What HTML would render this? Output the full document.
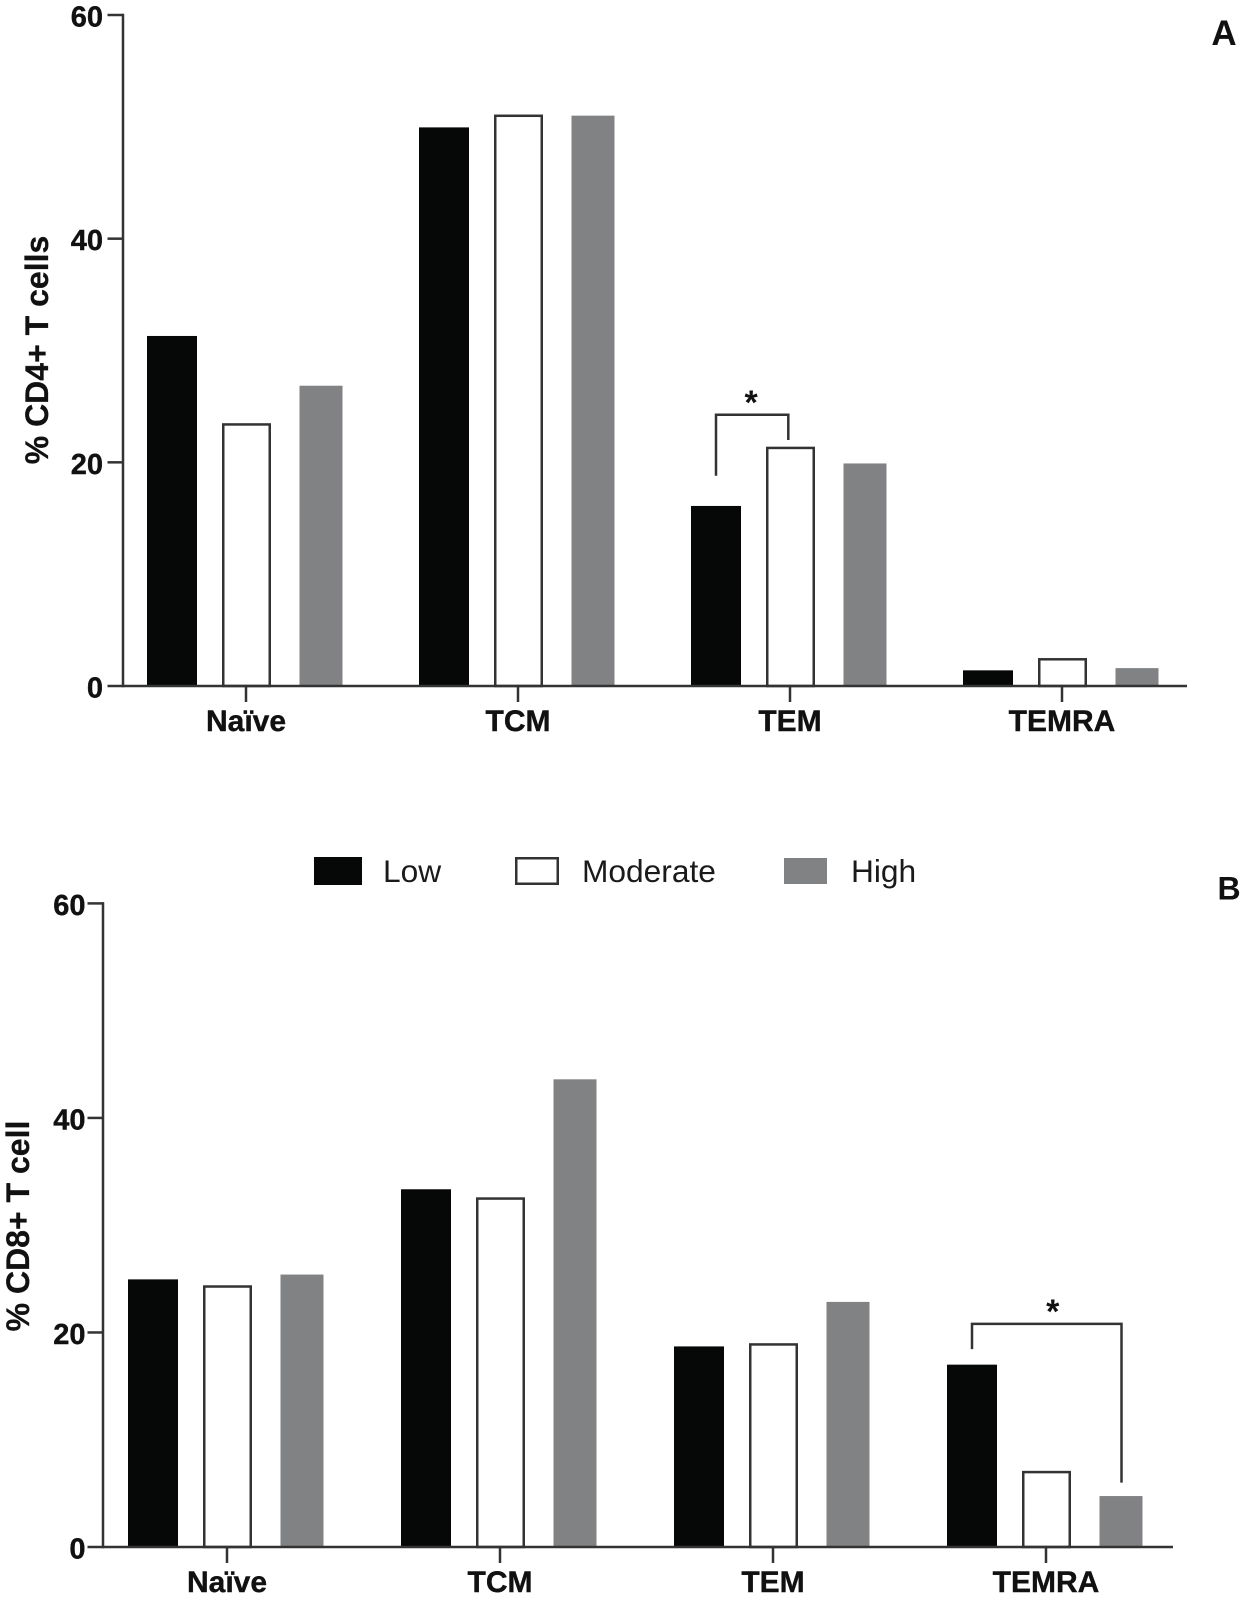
<!DOCTYPE html>
<html lang="en">
<head>
<meta charset="utf-8">
<title>CD4+ and CD8+ T cell subsets</title>
<style>
html,body{margin:0;padding:0;background:#fff;}
#chart{display:block;width:1245px;height:1602px;font-family:"Liberation Sans",Arial,sans-serif;}
.tick{font-size:29px;font-weight:700;fill:#111;stroke:#111;stroke-width:.4px;text-anchor:end;}
.cat{font-size:30px;font-weight:700;fill:#111;stroke:#111;stroke-width:.4px;text-anchor:middle;}
.title{font-size:32px;font-weight:700;fill:#111;stroke:#111;stroke-width:.3px;text-anchor:middle;}
.leg{font-size:31.7px;fill:#1a1a1a;}
.panel{font-weight:700;fill:#111;text-anchor:middle;}
.star{font-size:34px;font-weight:700;fill:#111;text-anchor:middle;}
</style>
</head>
<body>
<svg id="chart" xmlns="http://www.w3.org/2000/svg" width="1245" height="1602" viewBox="0 0 1245 1602">
  <rect x="0" y="0" width="1245" height="1602" fill="#fff"/>
  <g id="panelA"></g>
  <g id="panelB"></g>

  <text class="title" transform="translate(48,350) rotate(-90)">% CD4+ T cells</text>
  <text class="title" transform="translate(29,1226) rotate(-90)">% CD8+ T cell</text>
  <text class="panel" x="1224" y="45" font-size="35">A</text>
  <text class="panel" x="1229" y="899.5" font-size="32">B</text>

  <g>
    <g>
      <rect x="314" y="857" width="48" height="28" fill="#060808"/>
      <text class="leg" x="383" y="882">Low</text>
    </g>
    <g>
      <rect x="516.25" y="858.25" width="41.5" height="25.5" fill="#fff" stroke="#333" stroke-width="2.5"/>
      <text class="leg" x="582" y="882">Moderate</text>
    </g>
    <g>
      <rect x="784" y="858" width="43" height="26" fill="#808284"/>
      <text class="leg" x="851" y="882">High</text>
    </g>
  </g>
</svg>
<script>
// ---- chart data ----
const categories = ["Naïve", "TCM", "TEM", "TEMRA"];
const yTickLabels = [0, 20, 40, 60];

const cd4Low = [31.3, 49.95, 16.1, 1.4];
const cd4Moderate = [23.5, 51.1, 21.4, 2.5];
const cd4High = [26.85, 51.0, 19.9, 1.6];

const cd8Low = [24.95, 33.35, 18.7, 17.0];
const cd8Moderate = [24.4, 32.6, 19.0, 7.1];
const cd8High = [25.4, 43.6, 22.85, 4.75];

// significance brackets: [value at left foot, value at bar top, value at right foot]
const cd4Bracket = [18.8, 24.25, 22.0];
const cd8Bracket = [18.45, 20.8, 6.0];

const SVG_NS = "http://www.w3.org/2000/svg";

function makeEl(tag, parent, name) {
  const el = document.createElementNS(SVG_NS, tag);
  
  
  parent.appendChild(el);
  return el;
}

function drawPanel(parent, prefix, low, moderate, high, bracket, layout) {
  const yOf = v => layout.y0 - v * (layout.y0 - layout.y60) / 60;
  const xOf = i => layout.x0 + layout.step * i;
  const lineColor = "#333";

  // bars
  const series = [
    { key: "low", vals: low, off: -74, w: 50 },
    { key: "moderate", vals: moderate, off: 0.5, w: 49 },
    { key: "high", vals: high, off: 75, w: 43 }
  ];
  series.forEach(s => {
    s.vals.forEach((v, i) => {
      const cx = xOf(i) + s.off;
      const top = yOf(v);
      const bar = makeEl('rect', parent, prefix + '-bar-' + s.key + '-' + categories[i].toLowerCase().replace('ï', 'i'));
      if (s.key === "moderate") {
        bar.setAttribute('x', cx - s.w / 2 + 1.25);
        bar.setAttribute('y', top + 1.25);
        bar.setAttribute('width', s.w - 2.5);
        bar.setAttribute('height', Math.max(0, layout.y0 - top - 1.25));
        bar.setAttribute('fill', '#fff');
        bar.setAttribute('stroke', lineColor);
        bar.setAttribute('stroke-width', '2.5');
      } else {
        bar.setAttribute('x', cx - s.w / 2);
        bar.setAttribute('y', top);
        bar.setAttribute('width', s.w);
        bar.setAttribute('height', Math.max(0, layout.y0 - top));
        bar.setAttribute('fill', s.key === "low" ? '#060808' : '#808284');
      }
    });
  });

  // y axis
  const yAxis = makeEl('line', parent, prefix + '-y-axis');
  yAxis.setAttribute('x1', layout.axisX);
  yAxis.setAttribute('x2', layout.axisX);
  yAxis.setAttribute('y1', yOf(60) - 1.25);
  yAxis.setAttribute('y2', layout.y0 + 1.25);
  yAxis.setAttribute('stroke', lineColor);
  yAxis.setAttribute('stroke-width', '2.5');

  yTickLabels.forEach(t => {
    const tick = makeEl('line', parent, prefix + '-y-tick-' + t);
    tick.setAttribute('x1', layout.axisX - 15.5);
    tick.setAttribute('x2', layout.axisX);
    tick.setAttribute('y1', yOf(t));
    tick.setAttribute('y2', yOf(t));
    tick.setAttribute('stroke', lineColor);
    tick.setAttribute('stroke-width', '2.5');

    const label = makeEl('text', parent, prefix + '-y-tick-label-' + t);
    label.setAttribute('class', 'tick');
    label.setAttribute('x', layout.axisX - layout.labelGap);
    label.setAttribute('y', yOf(t) + 11.5);
    label.textContent = t;
  });

  // x axis
  const xAxis = makeEl('line', parent, prefix + '-x-axis');
  xAxis.setAttribute('x1', layout.axisX);
  xAxis.setAttribute('x2', layout.axisEnd);
  xAxis.setAttribute('y1', layout.y0);
  xAxis.setAttribute('y2', layout.y0);
  xAxis.setAttribute('stroke', lineColor);
  xAxis.setAttribute('stroke-width', '2.5');

  categories.forEach((c, i) => {
    const slug = c.toLowerCase().replace('ï', 'i');
    const tick = makeEl('line', parent, prefix + '-x-tick-' + slug);
    tick.setAttribute('x1', xOf(i));
    tick.setAttribute('x2', xOf(i));
    tick.setAttribute('y1', layout.y0);
    tick.setAttribute('y2', layout.y0 + 16);
    tick.setAttribute('stroke', lineColor);
    tick.setAttribute('stroke-width', '2.5');

    const label = makeEl('text', parent, prefix + '-x-tick-label-' + slug);
    label.setAttribute('class', 'cat');
    label.setAttribute('x', xOf(i));
    label.setAttribute('y', layout.y0 + 45);
    label.textContent = c;
  });

  // significance bracket
  const bx1 = xOf(layout.bracketGroup) + series[layout.bracketFrom].off;
  const bx2 = xOf(layout.bracketGroup) + series[layout.bracketTo].off + layout.bracketEndDx;
  const path = makeEl('path', parent, prefix + '-significance-bracket');
  path.setAttribute('d', 'M' + bx1 + ' ' + yOf(bracket[0]) + 'V' + yOf(bracket[1]) + 'H' + bx2 + 'V' + yOf(bracket[2]));
  path.setAttribute('fill', 'none');
  path.setAttribute('stroke', lineColor);
  path.setAttribute('stroke-width', '2.5');

  const star = makeEl('text', parent, prefix + '-significance-star');
  star.setAttribute('class', 'star');
  star.setAttribute('x', (bx1 + bx2) / 2 + layout.starDx);
  star.setAttribute('y', yOf(bracket[1]) - 1);
  star.textContent = '*';
}

drawPanel(document.getElementById('panelA'), 'cd4', cd4Low, cd4Moderate, cd4High, cd4Bracket, {
  x0: 246, step: 272, y0: 686, y60: 15, axisX: 123, axisEnd: 1187, labelGap: 20,
  bracketGroup: 2, bracketFrom: 0, bracketTo: 1, bracketEndDx: -2.2, starDx: -1
});
drawPanel(document.getElementById('panelB'), 'cd8', cd8Low, cd8Moderate, cd8High, cd8Bracket, {
  x0: 227, step: 273, y0: 1547, y60: 903.4, axisX: 103, axisEnd: 1173, labelGap: 17.5,
  bracketGroup: 3, bracketFrom: 0, bracketTo: 2, bracketEndDx: 0.5, starDx: 6
});
</script>
</body>
</html>
